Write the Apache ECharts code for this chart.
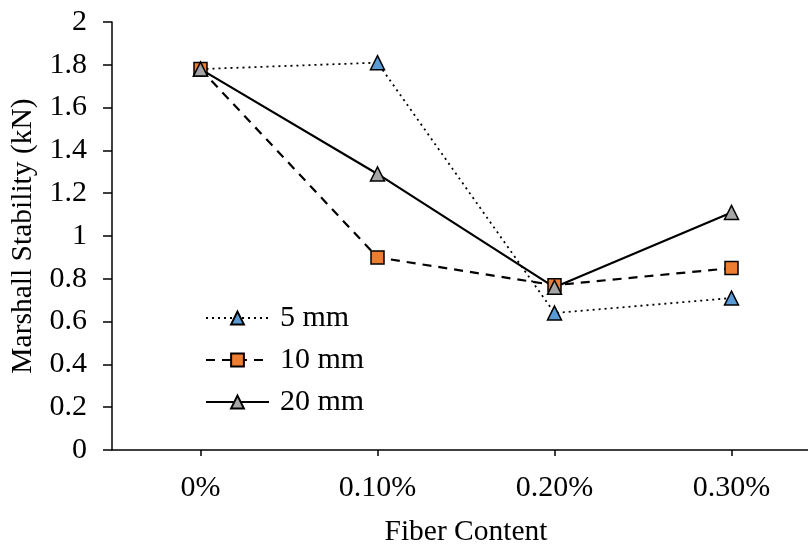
<!DOCTYPE html>
<html>
<head>
<meta charset="utf-8">
<script src="https://cdn.jsdelivr.net/npm/echarts@6/dist/echarts.min.js"></script>
<style>html,body{margin:0;padding:0;background:#fff;}#c{width:808px;height:547px;}</style>
</head>
<body>
<div id="c"></div>
<script>
const categories = ['0%', '0.10%', '0.20%', '0.30%'];
const s5mm = [1.78, 1.81, 0.64, 0.71];
const s10mm = [1.78, 0.90, 0.77, 0.85];
const s20mm = [1.78, 1.29, 0.76, 1.11];
const seriesNames = ['5 mm', '10 mm', '20 mm'];

const font = '"Liberation Serif", "Times New Roman", serif';
const chart = echarts.init(document.getElementById('c'), null, {renderer: 'canvas'});
chart.setOption({
  animation: false,
  backgroundColor: '#fff',
  textStyle: {fontFamily: font, color: '#000'},
  grid: {left: 112, top: 22, bottom: 97, right: -12, containLabel: false, outerBoundsMode: 'none'},
  legend: {
    orient: 'vertical', left: 200, top: 298,
    itemWidth: 63, itemHeight: 16, itemGap: 12,
    textStyle: {fontFamily: font, fontSize: 30, color: '#000', padding: [0, 0, 0, 6]},
    data: seriesNames
  },
  xAxis: {
    type: 'category', data: categories, boundaryGap: true,
    name: 'Fiber Content', nameLocation: 'middle', nameGap: 67,
    nameTextStyle: {fontFamily: font, fontSize: 29.5, color: '#000'},
    axisLine: {lineStyle: {color: '#000', width: 1.5}},
    axisTick: {show: true, alignWithLabel: true, length: 6, lineStyle: {color: '#000', width: 1.5}},
    axisLabel: {fontFamily: font, fontSize: 30, color: '#000', margin: 23},
    splitLine: {show: false}
  },
  yAxis: {
    type: 'value', min: 0, max: 2, interval: 0.2,
    name: 'Marshall Stability (kN)', nameLocation: 'middle', nameGap: 67, nameRotate: 90,
    nameTextStyle: {fontFamily: font, fontSize: 29.5, color: '#000'},
    axisLine: {show: true, lineStyle: {color: '#000', width: 1.5}},
    axisTick: {show: true, length: 9, lineStyle: {color: '#000', width: 1.5}},
    axisLabel: {fontFamily: font, fontSize: 30, color: '#000', margin: 25,
      formatter: v => String(Math.round(v * 10) / 10)},
    splitLine: {show: false}
  },
  series: [
    {
      name: seriesNames[0], type: 'line', data: s5mm,
      symbol: 'triangle', symbolSize: 14,
      lineStyle: {color: '#000', width: 1.8, type: [2, 4]},
      itemStyle: {color: '#5B9BD5', borderColor: '#000', borderWidth: 1.5}
    },
    {
      name: seriesNames[1], type: 'line', data: s10mm,
      symbol: 'rect', symbolSize: 13,
      lineStyle: {color: '#000', width: 2.2, type: [9, 7]},
      itemStyle: {color: '#ED7D31', borderColor: '#000', borderWidth: 1.5}
    },
    {
      name: seriesNames[2], type: 'line', data: s20mm,
      symbol: 'triangle', symbolSize: 14,
      lineStyle: {color: '#000', width: 2.2, type: 'solid'},
      itemStyle: {color: '#A5A5A5', borderColor: '#000', borderWidth: 1.5}
    }
  ]
});
</script>
</body>
</html>
